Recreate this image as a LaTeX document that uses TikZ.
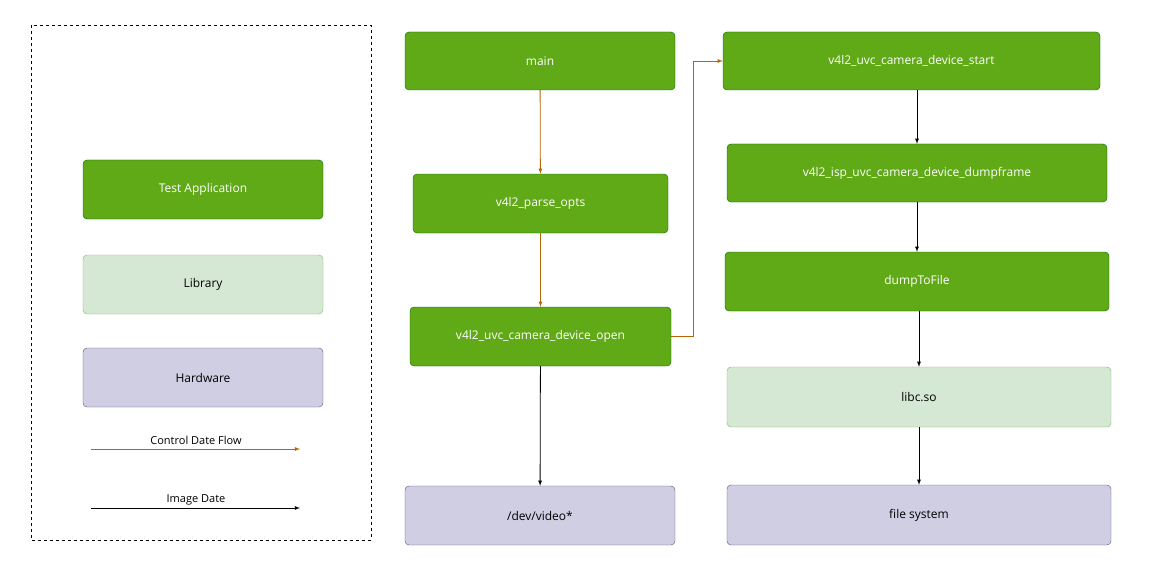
\documentclass[tikz,border=0pt]{standalone}
\usepackage{fontspec}
\setmainfont{Open Sans}
\begin{document}
\begin{tikzpicture}[x=1pt,y=-1pt,
  app/.style={draw=green!40!black,fill={rgb,255:red,96;green,169;blue,23},text=white,rounded corners=4pt,font=\fontsize{12}{14}\selectfont},
  lib/.style={draw={rgb,255:red,130;green,179;blue,102},fill={rgb,255:red,213;green,232;blue,212},rounded corners=4pt,font=\fontsize{12}{14}\selectfont},
  hw/.style={draw={rgb,255:red,86;green,81;blue,126},fill={rgb,255:red,208;green,206;blue,226},rounded corners=4pt,font=\fontsize{12}{14}\selectfont},
  ctl/.style={draw={rgb,255:red,180;green,101;blue,4},-latex,line width=0.8pt},
  img/.style={draw=black,-latex,line width=0.8pt}]
\useasboundingbox (0,0) rectangle (1162,567);
\draw[dashed] (31,25) rectangle (371,540);
\newcommand\bx[6]{\path[#1] (#2,#3) rectangle (#4,#5) node[midway] (n#6) {};}
\bx{app}{83}{160}{323}{219}{ta}\node at (nta) {\textcolor{white}{\fontsize{12}{14}\selectfont Test Application}};
\bx{lib}{83}{255}{323}{314}{li}\node at (nli) {\fontsize{12}{14}\selectfont Library};
\bx{hw}{83}{348}{323}{407}{hwl}\node at (nhwl) {\fontsize{12}{14}\selectfont Hardware};
\coordinate (c1) at (91,449); \coordinate (c2) at (300,449);
\draw[ctl] (c1) -- (c2);
\node[font=\fontsize{11}{13}\selectfont] (lc) at (196,440) {Control Date Flow};
\coordinate (i1) at (91,508); \coordinate (i2) at (300,508);
\draw[img] (i1) -- (i2);
\node[font=\fontsize{11}{13}\selectfont] (lim) at (196,500) {Image Date};
% main column
\node[app,minimum width=270,minimum height=58] (main) at (540,61) {main};
\node[app,minimum width=255,minimum height=59] (parse) at (540.5,203.5) {v4l2\_parse\_opts};
\node[app,minimum width=261,minimum height=59] (open) at (540.5,336.5) {v4l2\_uvc\_camera\_device\_open};
\node[hw,minimum width=270,minimum height=59] (dev) at (540,515.5) {/dev/video*};
\node[app,minimum width=377,minimum height=58] (start) at (911.5,61) {v4l2\_uvc\_camera\_device\_start};
\node[app,minimum width=380,minimum height=58] (dump) at (917,173) {v4l2\_isp\_uvc\_camera\_device\_dumpframe};
\node[app,minimum width=384,minimum height=59] (dtf) at (917,281.5) {dumpToFile};
\node[lib,minimum width=384,minimum height=60] (libc) at (919,397) {libc.so};
\node[hw,minimum width=384,minimum height=60] (fs) at (919,515) {file system};
\draw[ctl] (main) -- (parse);
\draw[ctl] (parse) -- (open);
\draw[ctl] (open.east) -- ++(22,0) |- (start.west);
\draw[img] (open) -- (dev);
\draw[img] (start.south -| dump.north) -- (dump);
\draw[img] (dump) -- (dtf);
\draw[img] (dtf.south -| libc.north) -- (libc);
\draw[img] (libc) -- (fs);
\end{tikzpicture}
\end{document}
